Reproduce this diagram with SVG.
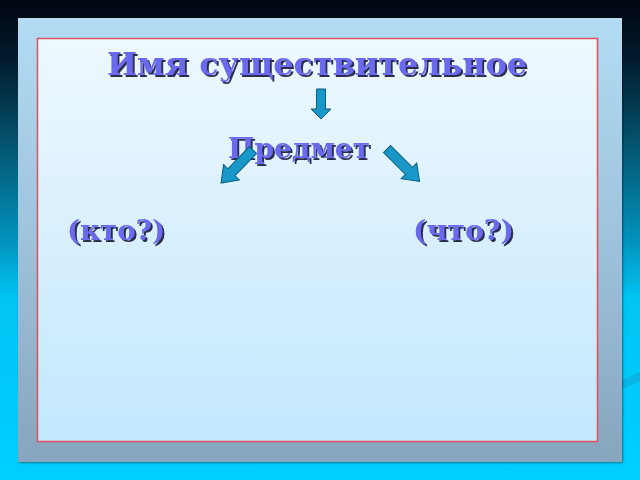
<svg xmlns="http://www.w3.org/2000/svg" width="640" height="480" viewBox="0 0 640 480">
<defs>
<linearGradient id="bg" x1="0" y1="0" x2="0" y2="1">
<stop offset="0" stop-color="#000510"/>
<stop offset="0.12" stop-color="#021a2c"/>
<stop offset="0.3" stop-color="#045470"/>
<stop offset="0.5" stop-color="#0292bc"/>
<stop offset="0.62" stop-color="#00c4f4"/>
<stop offset="1" stop-color="#00d0ff"/>
</linearGradient>
<linearGradient id="frame" x1="0" y1="0" x2="0" y2="1">
<stop offset="0" stop-color="#b2dcf4"/>
<stop offset="0.5" stop-color="#9ec2dc"/>
<stop offset="1" stop-color="#87a5bd"/>
</linearGradient>
<linearGradient id="panel" x1="0" y1="0" x2="0" y2="1">
<stop offset="0" stop-color="#eef8fe"/>
<stop offset="1" stop-color="#c2e8fe"/>
</linearGradient>
<filter id="sh" x="-5%" y="-5%" width="110%" height="110%">
<feDropShadow dx="1" dy="1" stdDeviation="1" flood-color="#000" flood-opacity="0.45"/>
</filter>
<filter id="tsh" x="-5%" y="-20%" width="110%" height="140%">
<feDropShadow dx="2" dy="2" stdDeviation="0.4" flood-color="#15153a" flood-opacity="0.9"/>
</filter>
<style>
.t{font-family:"DejaVu Serif","Liberation Serif",serif;font-weight:bold;fill:#6b6bef;filter:url(#tsh)}
.arr{fill:#1898c8;stroke:#0c5c80;stroke-width:1}
</style>
<path id="a" d="M-4.5,0 L4.5,0 L4.5,20 L10,20 L0,30 L-10,20 L-4.5,20 Z"/>
<path id="d" d="M-5,0 L5,0 L5,31 L11,31 L0,46 L-11,31 L-5,31 Z"/>
</defs>
<rect width="640" height="480" fill="url(#bg)"/>
<path d="M560,290 L640,275 L640,282 L565,296 Z" fill="#0aaed8" opacity="0.5"/>
<path d="M600,390 L640,372 L640,382 L605,396 Z" fill="#0aa8d4" opacity="0.6"/>
<rect x="18" y="18" width="604" height="444" fill="url(#frame)" filter="url(#sh)"/>
<rect x="37.5" y="38.5" width="560" height="403" fill="url(#panel)" stroke="#e0505e" stroke-width="1.5"/>
<g id="title">
<text class="t" x="107" y="75" font-size="31" textLength="420" lengthAdjust="spacingAndGlyphs">Имя существительное</text>
</g>
<g id="predmet">
<text class="t" x="228" y="158" font-size="27" textLength="142" lengthAdjust="spacingAndGlyphs">Предмет</text>
</g>
<g id="kto">
<text class="t" x="67" y="240" font-size="27" textLength="98" lengthAdjust="spacingAndGlyphs">(кто?)</text>
</g>
<g id="chto">
<text class="t" x="413" y="240" font-size="27" textLength="101" lengthAdjust="spacingAndGlyphs">(что?)</text>
</g>
<g id="connectors">
<use href="#a" class="arr" transform="translate(321,89)"/>
<use href="#d" class="arr" transform="translate(253,150) rotate(44)"/>
<use href="#d" class="arr" transform="translate(387,149) rotate(-45)"/>
</g>
</svg>
